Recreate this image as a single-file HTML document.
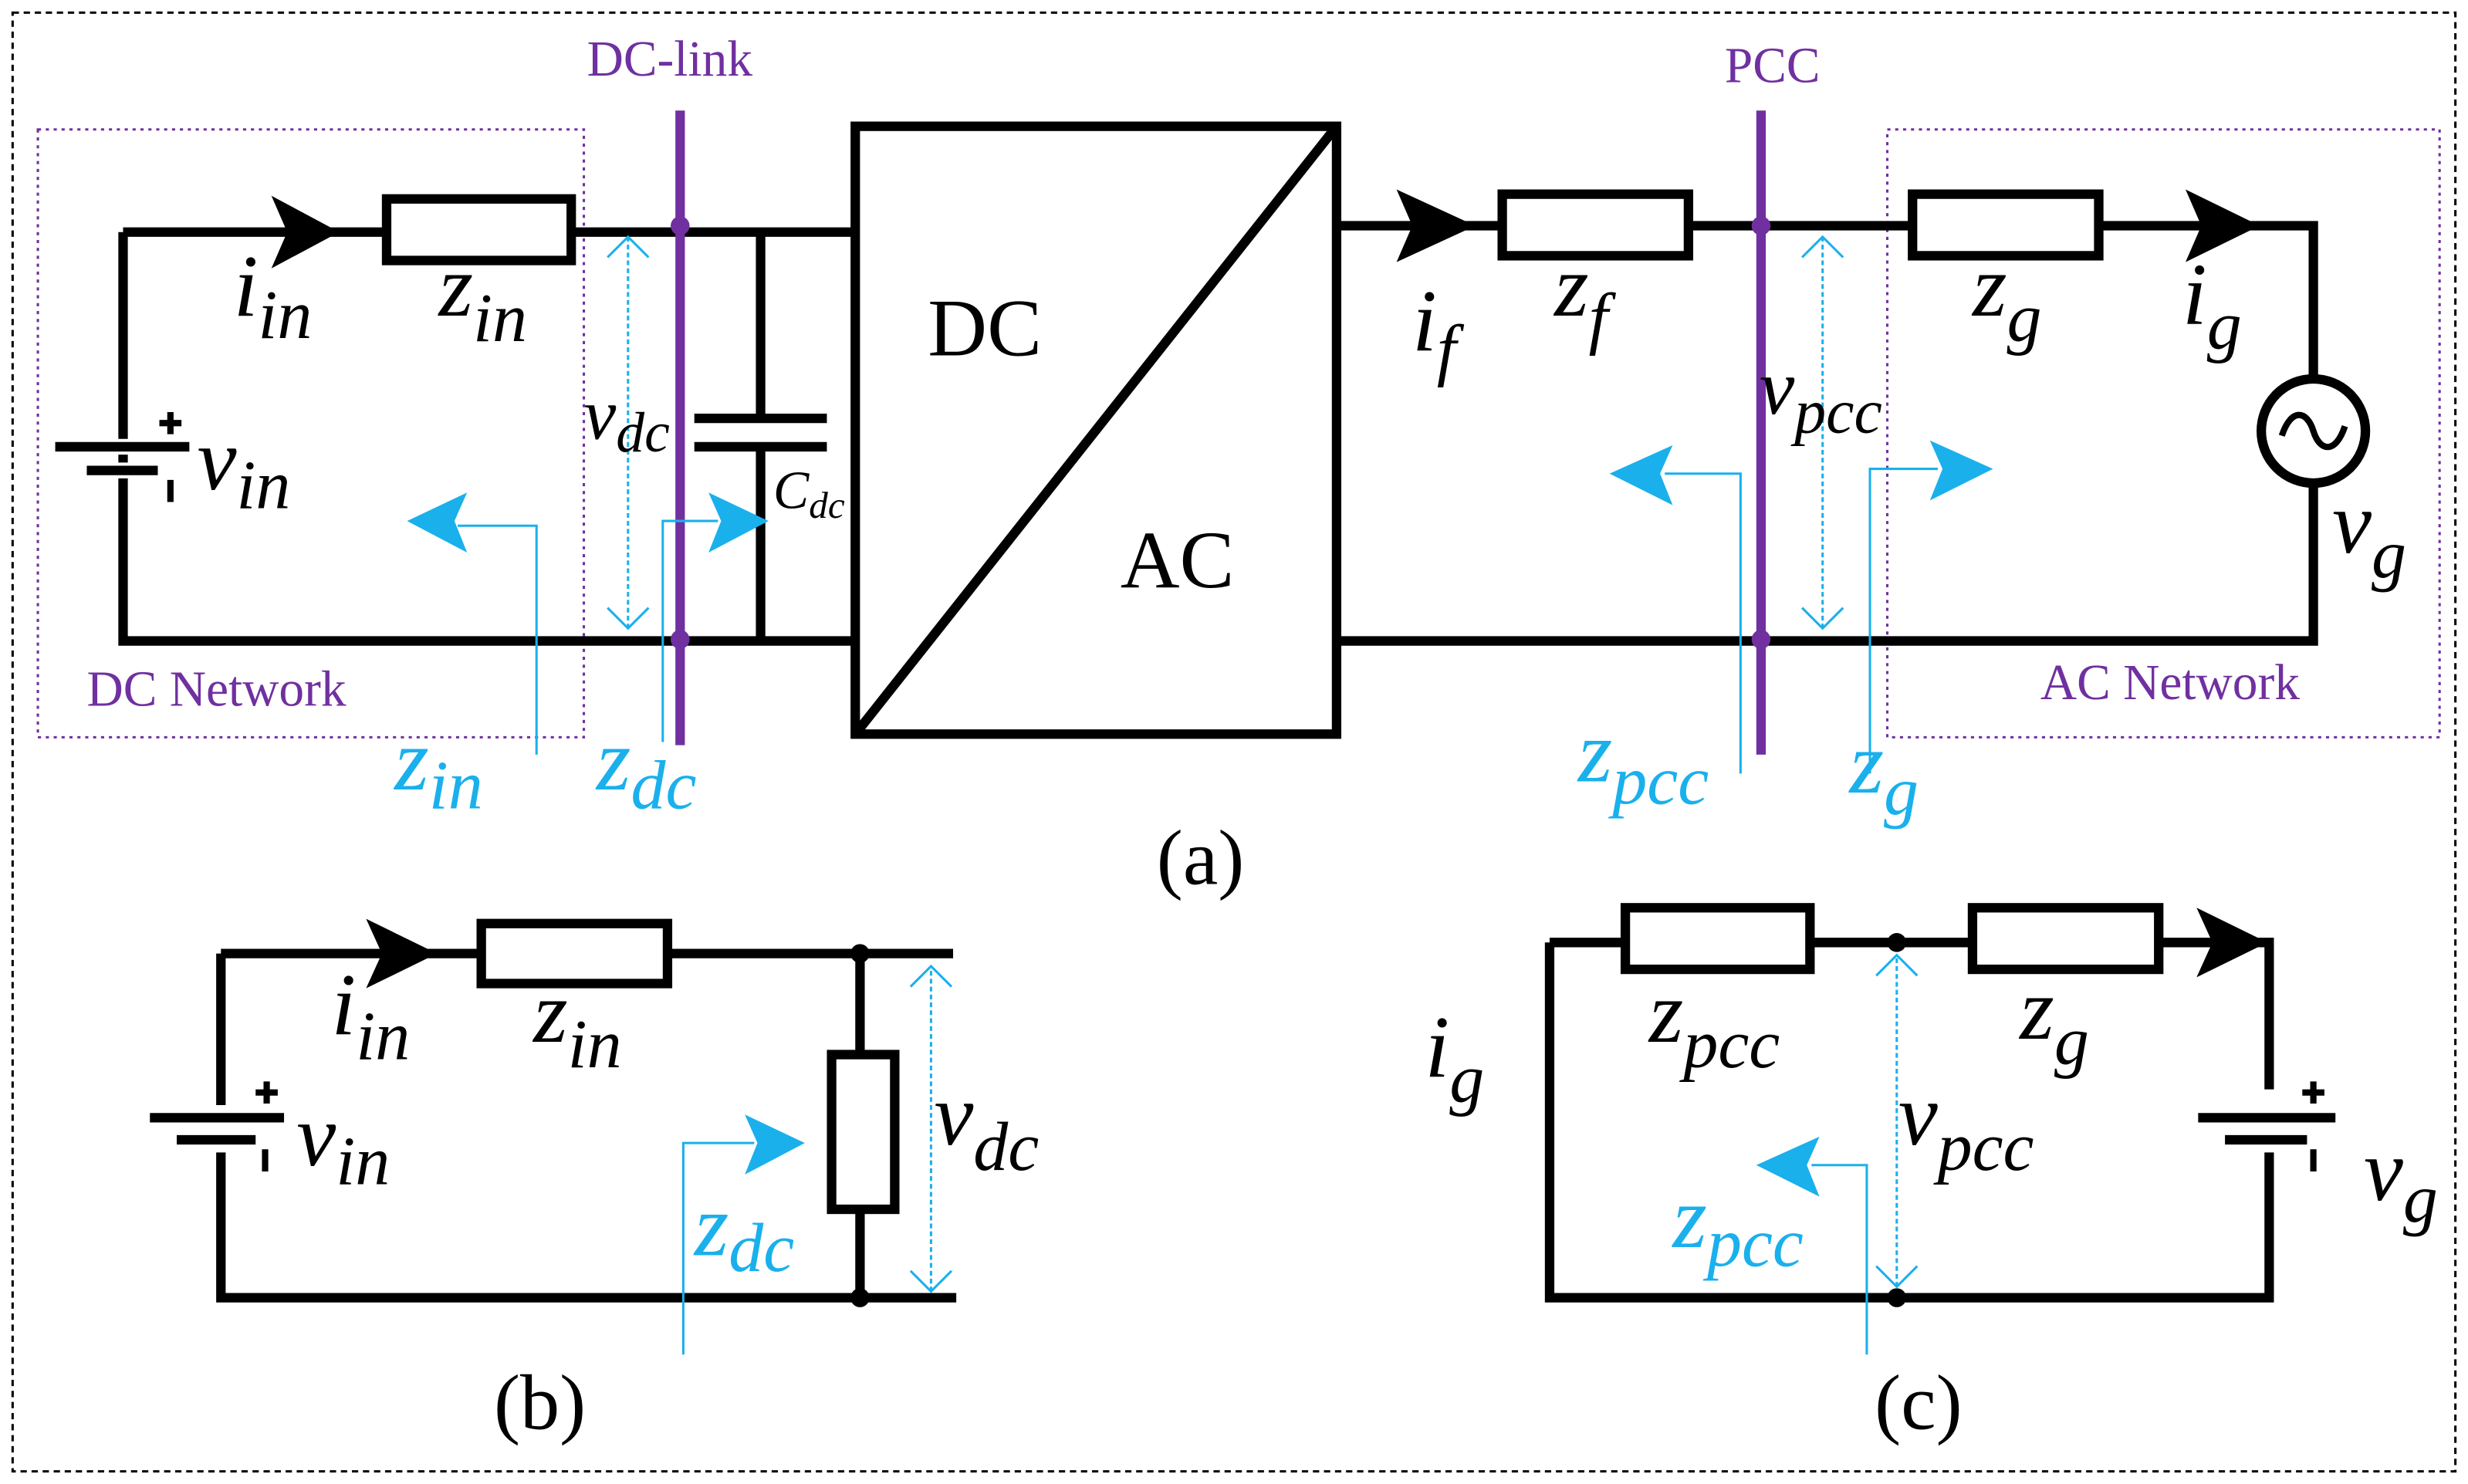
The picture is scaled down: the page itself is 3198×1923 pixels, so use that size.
<!DOCTYPE html>
<html><head><meta charset="utf-8"><style>
html,body{margin:0;padding:0;background:#fff}
svg{display:block}
text{font-family:"Liberation Serif","DejaVu Serif",serif}
.m{font-style:italic}
</style></head><body>
<svg width="3198" height="1923" viewBox="0 0 1564 940" preserveAspectRatio="none" xmlns="http://www.w3.org/2000/svg">
<rect x="8" y="8" width="1548" height="924" fill="none" stroke="#000" stroke-width="1.5" stroke-dasharray="4,3"/>
<rect x="24" y="82" width="346" height="385" fill="none" stroke="#7030a0" stroke-width="1.5" stroke-dasharray="2,3"/>
<rect x="1196" y="82" width="350" height="385" fill="none" stroke="#7030a0" stroke-width="1.5" stroke-dasharray="2,3"/>
<text x="55" y="447" font-size="32" fill="#7030a0">DC Network</text>
<text x="1293" y="443" font-size="32" fill="#7030a0">AC Network</text>
<text x="372" y="48" font-size="32" fill="#7030a0">DC-link</text>
<text x="1093" y="52" font-size="32" fill="#7030a0">PCC</text>

<g stroke="#000" stroke-width="6" fill="none">
<path d="M78,147 H245 M362,147 H540 M78,147 V406 H540"/>
<rect x="245" y="126" width="117" height="39" fill="#fff"/>
<path d="M482,147 V265 M482,283 V406"/>
<path d="M440,265 H524 M440,283 H524"/>
<path d="M35,283 H120 M55,298 H100" stroke="#fff" stroke-width="10"/>
<path d="M35,283 H120 M55,298 H100"/>
<path d="M108,304 V318 M101,268 H115 M108,261 V275" stroke-width="4"/>
<rect x="542" y="80" width="305" height="385"/>
<path d="M542,465 L847,80"/>
<path d="M847,143 H952 M1070,143 H1212 M1330,143 H1466 V240 M1466,306 V406 H847"/>
<rect x="952" y="123" width="118" height="39"/>
<rect x="1212" y="123" width="118" height="39"/>
<circle cx="1466" cy="273" r="33"/>
<path d="M1446,276 C1452,258 1462,260 1466,273 C1470,286 1480,288 1486,270" stroke-width="4"/>
<path d="M140,604 H305 M423,604 H604 M140,604 V700 M140,730 V822 H606 M545,604 V668 M545,766 V822"/>
<rect x="305" y="585" width="118" height="38"/>
<rect x="527" y="668" width="40" height="98"/>
<path d="M95,708 H180 M112,722 H162"/>
<path d="M168,728 V742 M162,692 H176 M169,685 V699" stroke-width="4"/>
<path d="M982,597 H1030 M1147,597 H1250 M1368,597 H1438 V690 M1438,730 V822 H982 V597"/>
<rect x="1030" y="575" width="117" height="39"/>
<rect x="1250" y="575" width="118" height="39"/>
<path d="M1393,708 H1480 M1410,722 H1462"/>
<path d="M1466,728 V742 M1459,692 H1473 M1466,685 V699" stroke-width="4"/>
</g>
<g fill="#000">
<path d="M172,124 L215,147 L172,170 L182,147Z"/>
<path d="M885,120 L935,143 L885,166 L895,143Z"/>
<path d="M1385,120 L1432,143 L1385,166 L1395,143Z"/>
<path d="M232,582 L277,604 L232,626 L242,604Z"/>
<path d="M1392,575 L1437,597 L1392,619 L1402,597Z"/>
</g>
<g stroke="#7030a0" stroke-width="6"><path d="M431,70 V472 M1116,70 V478"/></g>
<g fill="#7030a0"><circle cx="431" cy="143" r="6"/><circle cx="431" cy="405" r="6"/><circle cx="1116" cy="143" r="6"/><circle cx="1116" cy="405" r="6"/></g>
<g fill="#000"><circle cx="545" cy="604" r="6"/><circle cx="545" cy="822" r="6"/><circle cx="1202" cy="597" r="6"/><circle cx="1202" cy="822" r="6"/></g>
<g stroke="#1ab0ec" stroke-width="1.5" stroke-dasharray="3,2" fill="none">
<path d="M398,398 V150"/><path d="M1155,398 V150"/><path d="M590,818 V612"/><path d="M1202,815 V605"/>
</g>
<g stroke="#1ab0ec" stroke-width="1.5" fill="none">
<path d="M385,163 L398,150 L411,163 M385,385 L398,398 L411,385"/>
<path d="M1142,163 L1155,150 L1168,163 M1142,385 L1155,398 L1168,385"/>
<path d="M577,625 L590,612 L603,625 M577,805 L590,818 L603,805"/>
<path d="M1189,618 L1202,605 L1215,618 M1189,802 L1202,815 L1215,802"/>
<path d="M340,478 V333 H290"/><path d="M420,470 V330 H455"/>
<path d="M1103,490 V300 H1055"/><path d="M1185,490 V297 H1228"/>
<path d="M433,858 V724 H478"/><path d="M1183,858 V738 H1148"/>
</g>
<g fill="#1ab0ec">
<path d="M258,330 L296,312 L288,330 L296,350Z"/>
<path d="M487,330 L449,312 L457,330 L449,350Z"/>
<path d="M1020,300 L1060,282 L1052,300 L1060,320Z"/>
<path d="M1263,297 L1223,279 L1231,297 L1223,317Z"/>
<path d="M510,724 L472,706 L480,724 L472,744Z"/>
<path d="M1113,738 L1153,720 L1145,738 L1153,758Z"/>
</g>
<g font-size="56" fill="#000">
<text x="148" y="200" class="m">i<tspan font-size="44" dy="14">in</tspan></text>
<text x="278" y="200" class="m">z<tspan font-size="44" dy="16">in</tspan></text>
<text x="125" y="310" class="m">v<tspan font-size="44" dy="12">in</tspan></text>
<text x="370" y="278" class="m" font-size="46">v<tspan font-size="36" dy="8">dc</tspan></text>
<text x="490" y="322" class="m" font-size="34">C<tspan font-size="24" dy="6">dc</tspan></text>
<text x="588" y="225" font-size="52">DC</text>
<text x="710" y="372" font-size="52">AC</text>
<text x="895" y="222" class="m">i<tspan font-size="44" dy="14">f</tspan></text>
<text x="985" y="200" class="m">z<tspan font-size="44" dy="16">f</tspan></text>
<text x="1115" y="262" class="m" font-size="50">v<tspan font-size="40" dy="12">pcc</tspan></text>
<text x="1250" y="200" class="m">z<tspan font-size="44" dy="16">g</tspan></text>
<text x="1383" y="205" class="m">i<tspan font-size="44" dy="16">g</tspan></text>
<text x="1478" y="350" class="m">v<tspan font-size="44" dy="16">g</tspan></text>
<text x="733" y="560" font-size="50">(a)</text>
<text x="210" y="655" class="m">i<tspan font-size="44" dy="16">in</tspan></text>
<text x="338" y="660" class="m">z<tspan font-size="44" dy="16">in</tspan></text>
<text x="188" y="738" class="m">v<tspan font-size="44" dy="12">in</tspan></text>
<text x="592" y="725" class="m">v<tspan font-size="44" dy="16">dc</tspan></text>
<text x="313" y="905" font-size="50">(b)</text>
<text x="903" y="682" class="m">i<tspan font-size="44" dy="16">g</tspan></text>
<text x="1045" y="660" class="m">z<tspan font-size="44" dy="16">pcc</tspan></text>
<text x="1280" y="658" class="m">z<tspan font-size="44" dy="16">g</tspan></text>
<text x="1203" y="725" class="m">v<tspan font-size="44" dy="16">pcc</tspan></text>
<text x="1498" y="760" class="m">v<tspan font-size="44" dy="14">g</tspan></text>
<text x="1188" y="905" font-size="50">(c)</text>
</g>
<g font-size="56" fill="#1ab0ec">
<text x="250" y="500" class="m">z<tspan font-size="44" dy="12">in</tspan></text>
<text x="378" y="500" class="m">z<tspan font-size="44" dy="12">dc</tspan></text>
<text x="1000" y="495" class="m">z<tspan font-size="44" dy="14">pcc</tspan></text>
<text x="1172" y="502" class="m">z<tspan font-size="44" dy="14">g</tspan></text>
<text x="440" y="795" class="m">z<tspan font-size="44" dy="10">dc</tspan></text>
<text x="1060" y="790" class="m">z<tspan font-size="44" dy="12">pcc</tspan></text>
</g>
</svg>
</body></html>
